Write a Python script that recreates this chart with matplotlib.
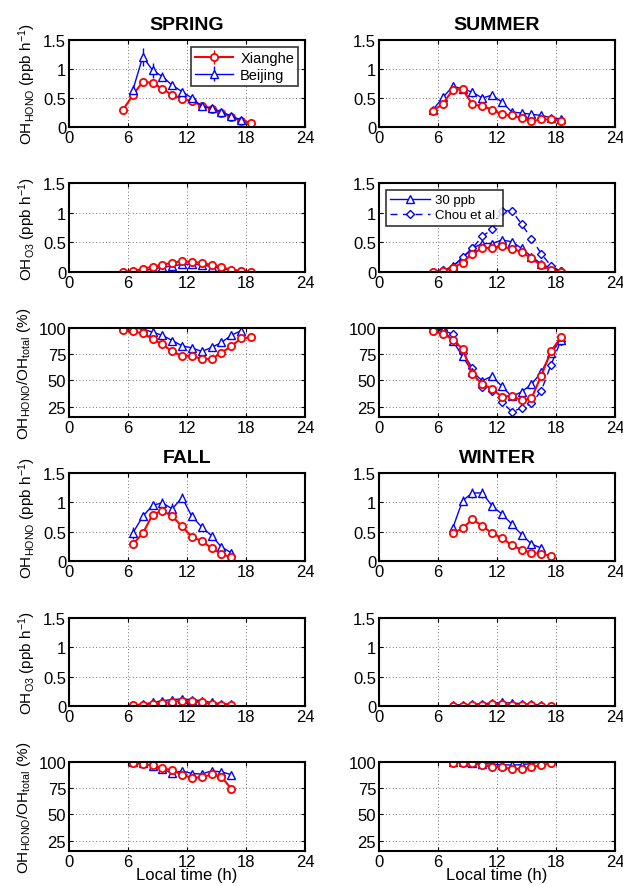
import numpy as np
import matplotlib
matplotlib.use("Agg")
import matplotlib.pyplot as plt

plt.rcParams["font.family"] = ["Liberation Sans", "DejaVu Sans"]
plt.rcParams["mathtext.default"] = "regular"

# ---- data (hour of day) ----
hrs_spring = [5.5, 6.5, 7.5, 8.5, 9.5, 10.5, 11.5, 12.5, 13.5, 14.5, 15.5, 16.5, 17.5, 18.5]
hrs_spring_bj = [6.5, 7.5, 8.5, 9.5, 10.5, 11.5, 12.5, 13.5, 14.5, 15.5, 16.5, 17.5]
spring_xh_hono = [0.30, 0.55, 0.78, 0.76, 0.66, 0.55, 0.49, 0.44, 0.37, 0.31, 0.24, 0.17, 0.11, 0.07]
spring_xh_hono_err = [0.02, 0.03, 0.03, 0.03, 0.03, 0.03, 0.02, 0.02, 0.02, 0.02, 0.02, 0.02, 0.02, 0.01]
spring_bj_hono = [0.64, 1.21, 0.98, 0.87, 0.72, 0.61, 0.50, 0.36, 0.33, 0.26, 0.19, 0.12]
spring_bj_hono_err = [0.09, 0.16, 0.13, 0.08, 0.06, 0.04, 0.03, 0.03, 0.03, 0.03, 0.03, 0.02]
spring_xh_o3 = [0.0, 0.02, 0.05, 0.09, 0.12, 0.16, 0.18, 0.17, 0.15, 0.12, 0.08, 0.04, 0.02, 0.0]
spring_bj_o3 = [0.0, 0.02, 0.05, 0.08, 0.10, 0.13, 0.13, 0.12, 0.09, 0.06, 0.03, 0.01]
spring_xh_ratio = [98.4, 96.8, 94.9, 89.7, 84.3, 77.6, 73.4, 73.4, 70.5, 70.5, 76.3, 82.7, 90.0, 91.0]
spring_bj_ratio = [100.0, 99.0, 96.0, 93.0, 88.0, 83.0, 81.0, 77.6, 81.4, 86.2, 93.0, 97.4]

hrs_summer = [5.5, 6.5, 7.5, 8.5, 9.5, 10.5, 11.5, 12.5, 13.5, 14.5, 15.5, 16.5, 17.5, 18.5]
summer_xh_hono = [0.28, 0.40, 0.64, 0.65, 0.39, 0.36, 0.30, 0.22, 0.20, 0.15, 0.10, 0.13, 0.13, 0.11]
summer_xh_hono_err = [0.02, 0.03, 0.03, 0.03, 0.03, 0.02, 0.02, 0.02, 0.02, 0.02, 0.02, 0.02, 0.02, 0.02]
summer_bj_hono = [0.30, 0.51, 0.70, 0.66, 0.60, 0.50, 0.55, 0.43, 0.26, 0.24, 0.22, 0.20, 0.16, 0.14]
summer_bj_hono_err = [0.03, 0.04, 0.04, 0.04, 0.08, 0.05, 0.04, 0.04, 0.03, 0.03, 0.03, 0.03, 0.02, 0.02]
summer_xh_o3 = [0.0, 0.01, 0.07, 0.16, 0.31, 0.40, 0.41, 0.43, 0.39, 0.34, 0.23, 0.11, 0.04, 0.0]
summer_bj_o3 = [0.0, 0.02, 0.10, 0.24, 0.40, 0.48, 0.48, 0.54, 0.51, 0.40, 0.26, 0.14, 0.06, 0.01]
summer_chou_o3 = [0.0, 0.03, 0.08, 0.25, 0.40, 0.60, 0.72, 1.03, 1.03, 0.81, 0.56, 0.31, 0.10, 0.01]
summer_xh_ratio = [97.0, 94.5, 89.0, 80.0, 55.8, 46.5, 41.7, 34.4, 35.3, 30.8, 32.7, 54.5, 77.9, 91.3]
summer_bj_ratio = [100.0, 98.4, 87.8, 73.0, 58.0, 49.7, 54.0, 44.2, 34.6, 39.0, 46.2, 57.7, 76.3, 88.5]
summer_chou_ratio = [100.0, 98.0, 94.0, 76.0, 62.0, 44.0, 40.0, 29.5, 20.0, 23.5, 28.0, 40.0, 65.0, 88.0]

hrs_fall = [6.5, 7.5, 8.5, 9.5, 10.5, 11.5, 12.5, 13.5, 14.5, 15.5, 16.5]
fall_xh_hono = [0.29, 0.47, 0.79, 0.86, 0.76, 0.59, 0.41, 0.34, 0.22, 0.12, 0.06]
fall_xh_hono_err = [0.03, 0.03, 0.03, 0.04, 0.03, 0.03, 0.02, 0.02, 0.02, 0.02, 0.02]
fall_bj_hono = [0.48, 0.76, 0.95, 0.99, 0.89, 1.08, 0.76, 0.58, 0.43, 0.24, 0.14]
fall_bj_hono_err = [0.10, 0.06, 0.06, 0.08, 0.10, 0.08, 0.04, 0.03, 0.03, 0.03, 0.03]
fall_xh_o3 = [0.01, 0.02, 0.03, 0.05, 0.07, 0.09, 0.08, 0.06, 0.04, 0.02, 0.02]
fall_bj_o3 = [0.02, 0.03, 0.06, 0.09, 0.11, 0.12, 0.11, 0.09, 0.06, 0.04, 0.03]
fall_xh_ratio = [99.0, 98.0, 96.8, 94.2, 92.0, 87.8, 84.9, 85.5, 88.1, 85.8, 74.6]
fall_bj_ratio = [100.0, 99.5, 96.0, 93.0, 89.5, 91.5, 89.0, 88.5, 91.5, 90.5, 88.0]

hrs_winter = [7.5, 8.5, 9.5, 10.5, 11.5, 12.5, 13.5, 14.5, 15.5, 16.5, 17.5]
hrs_winter_bj = [7.5, 8.5, 9.5, 10.5, 11.5, 12.5, 13.5, 14.5, 15.5, 16.5]
winter_xh_hono = [0.47, 0.56, 0.71, 0.60, 0.47, 0.39, 0.27, 0.19, 0.14, 0.12, 0.09]
winter_xh_hono_err = [0.04, 0.03, 0.03, 0.03, 0.03, 0.02, 0.02, 0.02, 0.02, 0.02, 0.01]
winter_bj_hono = [0.56, 1.03, 1.16, 1.16, 0.94, 0.80, 0.63, 0.45, 0.29, 0.22]
winter_bj_hono_err = [0.05, 0.08, 0.08, 0.08, 0.06, 0.04, 0.04, 0.03, 0.03, 0.02]
winter_xh_o3 = [0.0, 0.0, 0.01, 0.02, 0.03, 0.03, 0.02, 0.01, 0.01, 0.0, 0.0]
winter_bj_o3 = [0.02, 0.02, 0.03, 0.04, 0.05, 0.06, 0.05, 0.04, 0.03, 0.02]
winter_xh_ratio = [99.4, 99.4, 98.7, 97.0, 95.5, 94.8, 93.6, 93.2, 95.2, 96.8, 98.7]
winter_bj_ratio = [100.0, 100.0, 99.5, 98.5, 98.0, 97.5, 97.0, 97.5, 98.5, 100.0]

season_names = ["SPRING", "SUMMER", "FALL", "WINTER"]
ylab_hono = r"OH$_{HONO}$ (ppb h$^{-1}$)"
ylab_o3 = r"OH$_{O3}$ (ppb h$^{-1}$)"
ylab_ratio = r"OH$_{HONO}$/OH$_{total}$ (%)"

RED = "#ff0000"
BLUE = "#0000ff"
TICK_FS = 12
LAB_FS = 11
MS = 5.2

fig = plt.figure(figsize=(6.23, 8.87), dpi=100)

col_left = [69 / 623, 379 / 623]
col_w = 236 / 623
row_top = [41, 184, 329, 474, 619, 763]
row_bot = [128, 273, 418, 562, 707, 852]


def make_ax(r, c):
    b = 1 - row_bot[r] / 887
    h = (row_bot[r] - row_top[r]) / 887
    ax = fig.add_axes([col_left[c], b, col_w, h])
    ax.set_xlim(0, 24)
    ax.set_xticks([0, 6, 12, 18, 24])
    ax.grid(True, linestyle=(0, (1, 3)), color="#444444", linewidth=0.6)
    ax.tick_params(direction="in", top=True, right=True, labelsize=TICK_FS,
                   length=3, width=0.8, pad=2)
    for s in ax.spines.values():
        s.set_linewidth(1.5)
    ax.set_axisbelow(True)
    return ax


def xh(ax, x, y, err=None):
    return ax.errorbar(x, y, yerr=err, color=RED, marker="o", ms=MS, mfc="white",
                       mec=RED, mew=1.3, lw=1.5, elinewidth=1.0, capsize=0, label="Xianghe")


def bj(ax, x, y, err=None):
    return ax.errorbar(x, y, yerr=err, color=BLUE, marker="^", ms=MS, mfc="white",
                       mec=BLUE, mew=1.0, lw=1.0, elinewidth=1.0, capsize=0, label="Beijing")


def chou(ax, x, y):
    return ax.plot(x, y, color=BLUE, marker="D", ms=4.0, mfc="white", mew=1.0,
                   lw=1.0, ls=(0, (5, 4)), label="Chou et al.")[0]


def setup_flux(ax):
    ax.set_ylim(0, 1.5)
    ax.set_yticks([0, 0.5, 1, 1.5])
    ax.set_yticklabels(["0", "0.5", "1", "1.5"])


def setup_ratio(ax):
    ax.set_ylim(15, 100)
    ax.set_yticks([25, 50, 75, 100])


def title(ax, s):
    ax.set_title(s, fontsize=14, fontweight="bold", pad=8)


# ---- top block: spring / summer ----
ax = make_ax(0, 0)
setup_flux(ax)
h1 = xh(ax, hrs_spring, spring_xh_hono, spring_xh_hono_err)
h2 = bj(ax, hrs_spring_bj, spring_bj_hono, spring_bj_hono_err)
title(ax, season_names[0])
ax.set_ylabel(ylab_hono, fontsize=LAB_FS)
leg = ax.legend(handles=[h1, h2], loc="upper right", fontsize=10.5, frameon=True,
                fancybox=False, edgecolor="black", handlelength=2.6,
                borderaxespad=0.45, borderpad=0.3, labelspacing=0.2, handletextpad=0.5)
leg.get_frame().set_linewidth(1.2)

ax = make_ax(0, 1)
setup_flux(ax)
bj(ax, hrs_summer, summer_bj_hono, summer_bj_hono_err)
xh(ax, hrs_summer, summer_xh_hono, summer_xh_hono_err)
title(ax, season_names[1])

ax = make_ax(1, 0)
setup_flux(ax)
bj(ax, hrs_spring_bj, spring_bj_o3)
xh(ax, hrs_spring, spring_xh_o3)
ax.set_ylabel(ylab_o3, fontsize=LAB_FS)

ax = make_ax(1, 1)
setup_flux(ax)
c1 = ax.plot(hrs_summer, summer_bj_o3, color=BLUE, marker="^", ms=MS, mfc="white",
             mew=1.0, lw=1.0, label="30 ppb")[0]
c2 = chou(ax, hrs_summer, summer_chou_o3)
xh(ax, hrs_summer, summer_xh_o3)
leg = ax.legend(handles=[c1, c2], loc="upper left", fontsize=9.5, frameon=True,
                fancybox=False, edgecolor="black", handlelength=3.0,
                borderaxespad=0.5, borderpad=0.35, labelspacing=0.2, handletextpad=0.4)
leg.get_frame().set_linewidth(1.2)

ax = make_ax(2, 0)
setup_ratio(ax)
bj(ax, hrs_spring_bj, spring_bj_ratio)
xh(ax, hrs_spring, spring_xh_ratio)
ax.set_ylabel(ylab_ratio, fontsize=LAB_FS)

ax = make_ax(2, 1)
setup_ratio(ax)
bj(ax, hrs_summer, summer_bj_ratio)
chou(ax, hrs_summer, summer_chou_ratio)
xh(ax, hrs_summer, summer_xh_ratio)

# ---- bottom block: fall / winter ----
ax = make_ax(3, 0)
setup_flux(ax)
bj(ax, hrs_fall, fall_bj_hono, fall_bj_hono_err)
xh(ax, hrs_fall, fall_xh_hono, fall_xh_hono_err)
title(ax, season_names[2])
ax.set_ylabel(ylab_hono, fontsize=LAB_FS)

ax = make_ax(3, 1)
setup_flux(ax)
bj(ax, hrs_winter_bj, winter_bj_hono, winter_bj_hono_err)
xh(ax, hrs_winter, winter_xh_hono, winter_xh_hono_err)
title(ax, season_names[3])

ax = make_ax(4, 0)
setup_flux(ax)
bj(ax, hrs_fall, fall_bj_o3)
xh(ax, hrs_fall, fall_xh_o3)
ax.set_ylabel(ylab_o3, fontsize=LAB_FS)

ax = make_ax(4, 1)
setup_flux(ax)
bj(ax, hrs_winter_bj, winter_bj_o3)
xh(ax, hrs_winter, winter_xh_o3)

ax = make_ax(5, 0)
setup_ratio(ax)
bj(ax, hrs_fall, fall_bj_ratio)
xh(ax, hrs_fall, fall_xh_ratio)
ax.set_ylabel(ylab_ratio, fontsize=LAB_FS)
ax.set_xlabel("Local time (h)", fontsize=12, labelpad=-1)

ax = make_ax(5, 1)
setup_ratio(ax)
bj(ax, hrs_winter_bj, winter_bj_ratio)
xh(ax, hrs_winter, winter_xh_ratio)
ax.set_xlabel("Local time (h)", fontsize=12, labelpad=-1)

fig.savefig("out.png", dpi=100)
